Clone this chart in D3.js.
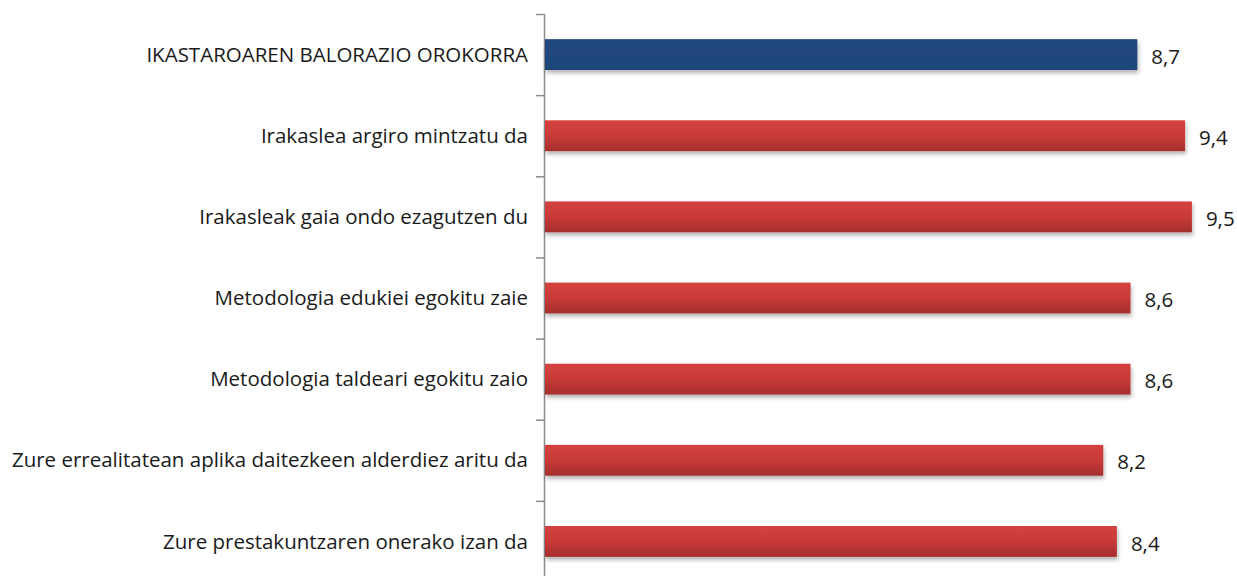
<!DOCTYPE html>
<html>
<head>
<meta charset="utf-8">
<script src="https://cdn.jsdelivr.net/npm/d3@7"></script>
<style>
  body { margin: 0; background: #fff; }
  text { font-family: "Open Sans", Lato, sans-serif; fill: #1a1a1a; }
</style>
</head>
<body>
<div id="chart"></div>
<script>

var categories = [
    "IKASTAROAREN BALORAZIO OROKORRA",
    "Irakaslea argiro mintzatu da",
    "Irakasleak gaia ondo ezagutzen du",
    "Metodologia edukiei egokitu zaie",
    "Metodologia taldeari egokitu zaio",
    "Zure errealitatean aplika daitezkeen alderdiez aritu da",
    "Zure prestakuntzaren onerako izan da"
];
var values = [8.7, 9.4, 9.5, 8.6, 8.6, 8.2, 8.4];
var valueLabels = ["8,7", "9,4", "9,5", "8,6", "8,6", "8,2", "8,4"];

var width = 1237, height = 576;

var svg = d3.select("#chart")
    .append("svg")
    .attr("width", width)
    .attr("height", height);

var defs = svg.append("defs");

var red = defs.append("linearGradient")
    .attr("id", "redGrad")
    .attr("x1", 0).attr("y1", 0).attr("x2", 0).attr("y2", 1);
red.append("stop").attr("offset", "0%").attr("stop-color", "#d5413f");
red.append("stop").attr("offset", "50%").attr("stop-color", "#c83a38");
red.append("stop").attr("offset", "100%").attr("stop-color", "#a52e2d");

var blue = defs.append("linearGradient")
    .attr("id", "blueGrad")
    .attr("x1", 0).attr("y1", 0).attr("x2", 0).attr("y2", 1);
blue.append("stop").attr("offset", "0%").attr("stop-color", "#22497e");
blue.append("stop").attr("offset", "100%").attr("stop-color", "#1e4578");

var shadow = defs.append("filter")
    .attr("id", "shadow")
    .attr("x", "-5%").attr("y", "-20%")
    .attr("width", "110%").attr("height", "160%");
shadow.append("feDropShadow")
    .attr("dx", 1).attr("dy", 3)
    .attr("stdDeviation", 2)
    .attr("flood-color", "#000")
    .attr("flood-opacity", 0.3);

var x = d3.scaleLinear()
    .domain([0, 10])
    .range([544, 1226]);

var y = d3.scaleBand()
    .domain(categories)
    .range([14, 582])
    .paddingInner(0.62)
    .paddingOuter(0.31);

// axis line + ticks at band edges
var step = y.step();
var axisG = svg.append("g");
axisG.append("line")
    .attr("x1", 544.5).attr("x2", 544.5)
    .attr("y1", 14).attr("y2", height)
    .attr("stroke", "#8c8c8c")
    .attr("stroke-width", 1.5);

axisG.selectAll(".tick")
    .data(d3.range(categories.length))
    .enter()
    .append("line")
        .attr("x1", 536).attr("x2", 544)
        .attr("y1", function(i){ return 14 + i * step + 0.5; })
        .attr("y2", function(i){ return 14 + i * step + 0.5; })
        .attr("stroke", "#8c8c8c")
        .attr("stroke-width", 1.5);

svg.selectAll("rect.bar")
    .data(values)
    .enter()
    .append("rect")
        .attr("class", "bar")
        .attr("x", x(0) + 1)
        .attr("y", function(d, i){ return y(categories[i]); })
        .attr("width", function(d){ return x(d) - x(0) - 1; })
        .attr("height", y.bandwidth())
        .attr("fill", function(d, i){ return i == 0 ? "url(#blueGrad)" : "url(#redGrad)"; })
        .attr("filter", "url(#shadow)");

svg.selectAll("text.cat")
    .data(categories)
    .enter()
    .append("text")
        .attr("class", "cat")
        .attr("x", 528)
        .attr("y", function(d){ return y(d) + y.bandwidth() / 2; })
        .attr("dy", "0.35em")
        .attr("text-anchor", "end")
        .attr("font-size", "20.5px")
        .text(function(d){ return d; });

svg.selectAll("text.val")
    .data(values)
    .enter()
    .append("text")
        .attr("class", "val")
        .attr("x", function(d){ return x(d) + 14; })
        .attr("y", function(d, i){ return y(categories[i]) + y.bandwidth() / 2 + 2; })
        .attr("dy", "0.35em")
        .attr("font-size", "20.5px")
        .text(function(d, i){ return valueLabels[i]; });

</script>
</body>
</html>
